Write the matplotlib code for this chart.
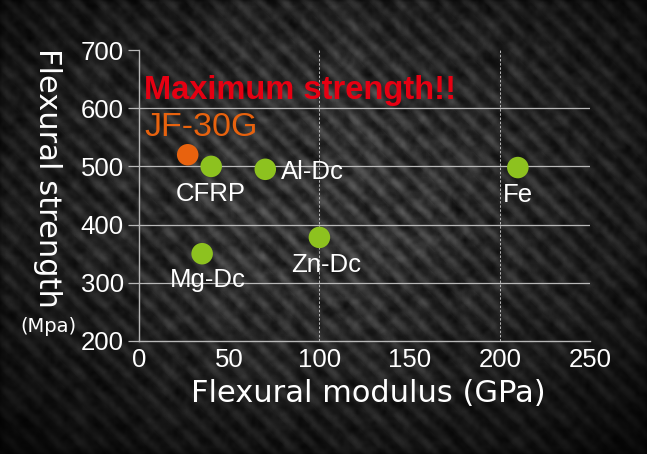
import numpy as np
import matplotlib
matplotlib.use("Agg")
import matplotlib.pyplot as plt

# ---- data ----
materials = ["JF-30G", "CFRP", "Al-Dc", "Fe", "Zn-Dc", "Mg-Dc"]
modulus = [27, 40, 70, 210, 100, 35]          # GPa
strength = [520, 500, 495, 498, 378, 350]     # MPa
x_ticks = [0, 50, 100, 150, 200, 250]
y_ticks = [200, 300, 400, 500, 600, 700]

W, H, DPI = 647, 454, 100
fig = plt.figure(figsize=(W / DPI, H / DPI), dpi=DPI)

# ---- carbon fibre style background (decorative texture) ----
yy, xx = np.mgrid[0:H, 0:W].astype(float)


def hashnoise(cx, cy, seed):
    v = np.sin(cx * 12.9898 + cy * 78.233 + seed * 37.719) * 43758.5453
    return v - np.floor(v)


def blur(img, k):
    ker = np.ones(k) / k
    img = np.apply_along_axis(lambda r: np.convolve(r, ker, mode="same"), 1, img)
    img = np.apply_along_axis(lambda c: np.convolve(c, ker, mode="same"), 0, img)
    return img


grain = hashnoise(np.floor(xx / 3), np.floor(yy / 3), 1.0)
grain = blur(grain, 5)
blot = hashnoise(np.floor(xx / 9), np.floor(yy / 9), 2.0)
blot = blur(blot, 13)
P = 23.0
a = (xx - yy) / P
b = (xx + yy) / P
stripe = 0.5 + 0.5 * np.sin(2 * np.pi * a)
cross = 0.5 + 0.5 * np.sin(2 * np.pi * b / 2.0 + np.pi * np.floor(a))
tex = 0.3 * stripe ** 1.5 + 0.15 * cross * stripe + 0.3 * grain + 0.4 * blot
cx, cy = W * 0.5, H * 0.42
r = np.sqrt(((xx - cx) / (W * 0.7)) ** 2 + ((yy - cy) / (H * 0.75)) ** 2)
vign = np.clip(1.2 - 1.0 * r, 0.2, 1.0)
base = np.clip((0.02 + 0.36 * tex) * vign, 0, 1)
bgax = fig.add_axes([0, 0, 1, 1])
bgax.imshow(base, cmap="gray", vmin=0, vmax=1, aspect="auto", interpolation="bilinear")
bgax.axis("off")

ax = fig.add_axes([139 / W, 1 - 341 / H, (590 - 139) / W, (341 - 50) / H])
ax.patch.set_alpha(0)
ax.set_xlim(0, 250)
ax.set_ylim(200, 700)

gridc = "#b8b8b8"
for yv in y_ticks[1:-1]:
    ax.axhline(yv, color=gridc, lw=0.9, zorder=1)
for xv in [100, 200]:
    ax.axvline(xv, color=gridc, lw=0.7, ls=(0, (2.5, 1.8)), zorder=1)

for s in ["top", "right"]:
    ax.spines[s].set_visible(False)
for s in ["left", "bottom"]:
    ax.spines[s].set_color(gridc)
    ax.spines[s].set_linewidth(1.0)

ax.set_xticks(x_ticks)
ax.set_yticks(y_ticks)
ax.tick_params(axis="y", length=8, color=gridc, width=0.9, pad=3,
               labelcolor="white", labelsize=18.5)
ax.tick_params(axis="x", length=0, pad=5, labelcolor="white", labelsize=18.5)
for lab in ax.get_xticklabels() + ax.get_yticklabels():
    lab.set_family("Liberation Sans")

colors = ["#e8620e"] + ["#8dc21f"] * 5
ax.scatter(modulus, strength, s=240, c=colors, zorder=3, linewidths=0)

offsets = {
    "CFRP": (0, -11, "center", "top"),
    "Al-Dc": (11, -2, "left", "center"),
    "Fe": (0, -11, "center", "top"),
    "Zn-Dc": (5, -11, "center", "top"),
    "Mg-Dc": (4, -10, "center", "top"),
}
for name, xv, yv in zip(materials, modulus, strength):
    if name in offsets:
        dx, dy, ha, va = offsets[name]
        ax.annotate(name, (xv, yv), xytext=(dx, dy), textcoords="offset points",
                    ha=ha, va=va, color="white", fontsize=18.5, family="Liberation Sans")

ax.text(3, 630, "Maximum strength!!", color="#e60012", fontsize=23.5,
        fontweight="bold", ha="left", va="center", family="Liberation Sans")
ax.text(3, 566, "JF-30G", color="#e8620e", fontsize=24.5,
        ha="left", va="center", family="Liberation Sans")

fig.text(368 / W, 1 - 394 / H, "Flexural modulus (GPa)", color="white",
         fontsize=22, ha="center", va="center", family="DejaVu Sans")
fig.text(47 / W, 1 - 178 / H, "Flexural strength", color="white",
         fontsize=22, rotation=-90, ha="center", va="center", family="DejaVu Sans")
fig.text(48 / W, 1 - 326 / H, "(Mpa)", color="white",
         fontsize=14, ha="center", va="center", family="DejaVu Sans")

fig.savefig("out.png", dpi=DPI)
